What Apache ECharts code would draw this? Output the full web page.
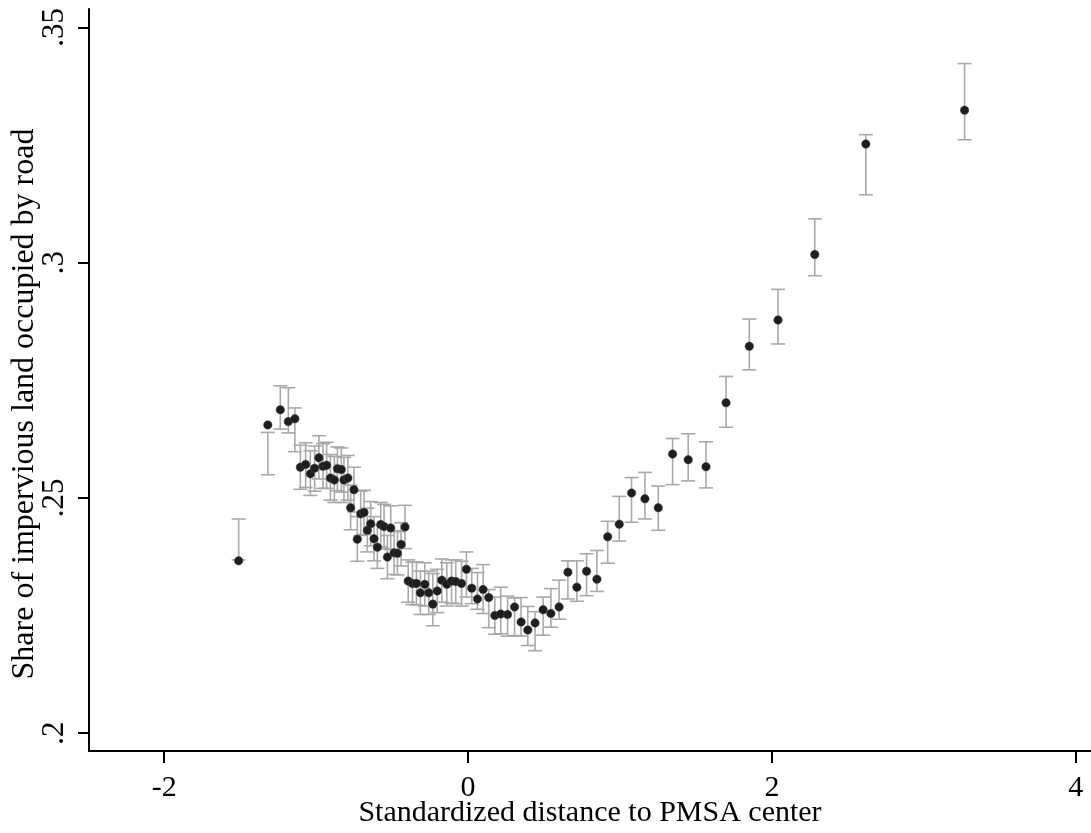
<!DOCTYPE html>
<html>
<head>
<meta charset="utf-8">
<script src="https://cdn.jsdelivr.net/npm/echarts@6/dist/echarts.min.js"></script>
<style>
html,body{margin:0;padding:0;background:#fff;}
#chart{width:1091px;height:833px;}
</style>
</head>
<body>
<div id="chart"></div>
<script>
const xTicks = [-2, 0, 2, 4];
const yTicks = [0.2, 0.25, 0.3, 0.35];
const xs = [-1.510,-1.318,-1.236,-1.183,-1.140,-1.104,-1.069,-1.038,-1.010,-0.982,
  -0.955,-0.931,-0.906,-0.880,-0.860,-0.834,-0.817,-0.791,-0.773,-0.751,
  -0.729,-0.707,-0.685,-0.663,-0.641,-0.619,-0.597,-0.575,-0.553,-0.531,
  -0.509,-0.487,-0.465,-0.441,-0.415,-0.394,-0.366,-0.340,-0.314,-0.285,
  -0.259,-0.232,-0.203,-0.173,-0.140,-0.109,-0.081,-0.043,-0.011,0.024,
  0.062,0.099,0.136,0.176,0.215,0.260,0.306,0.349,0.393,0.441,
  0.494,0.545,0.599,0.657,0.716,0.780,0.848,0.919,0.995,1.076,
  1.164,1.252,1.346,1.449,1.566,1.698,1.851,2.040,2.282,2.618,3.268];
const ys = [0.2366,0.2655,0.2687,0.2662,0.2668,0.2565,0.2571,0.2551,0.2563,0.2585,
  0.2567,0.2569,0.2542,0.2538,0.2562,0.2560,0.2538,0.2542,0.2479,0.2517,
  0.2412,0.2466,0.2469,0.2431,0.2445,0.2413,0.2395,0.2443,0.2439,0.2374,
  0.2436,0.2383,0.2382,0.2401,0.2438,0.2323,0.2318,0.2318,0.2298,0.2316,
  0.2298,0.2274,0.2302,0.2325,0.2316,0.2323,0.2322,0.2318,0.2348,0.2308,
  0.2285,0.2305,0.2288,0.2250,0.2253,0.2252,0.2268,0.2236,0.2219,0.2234,
  0.2262,0.2254,0.2268,0.2342,0.2310,0.2344,0.2327,0.2417,0.2444,0.2510,
  0.2498,0.2479,0.2593,0.2581,0.2566,0.2702,0.2822,0.2878,0.3017,0.3252,0.3324];
const lo = [0.2368,0.2549,0.2646,0.2638,0.2598,0.2518,0.2522,0.2505,0.2514,0.2540,
  0.2520,0.2520,0.2495,0.2490,0.2515,0.2512,0.2490,0.2495,0.2432,0.2470,
  0.2365,0.2420,0.2422,0.2385,0.2398,0.2366,0.2350,0.2396,0.2392,0.2328,
  0.2390,0.2337,0.2336,0.2355,0.2392,0.2278,0.2273,0.2272,0.2252,0.2270,
  0.2252,0.2228,0.2256,0.2278,0.2270,0.2276,0.2275,0.2270,0.2289,0.2275,
  0.2263,0.2254,0.2224,0.2210,0.2211,0.2206,0.2207,0.2206,0.2186,0.2175,
  0.2208,0.2225,0.2242,0.2285,0.2280,0.2292,0.2301,0.2361,0.2408,0.2448,
  0.2455,0.2431,0.2528,0.2536,0.2521,0.2650,0.2772,0.2827,0.2972,0.3144,0.3261];
const hi = [0.2455,0.2639,0.2738,0.2734,0.2691,0.2612,0.2617,0.2600,0.2610,0.2632,
  0.2615,0.2618,0.2592,0.2588,0.2608,0.2606,0.2586,0.2590,0.2527,0.2565,
  0.2460,0.2514,0.2516,0.2478,0.2492,0.2460,0.2442,0.2490,0.2486,0.2420,
  0.2483,0.2430,0.2428,0.2447,0.2484,0.2368,0.2363,0.2364,0.2344,0.2362,
  0.2344,0.2339,0.2348,0.2370,0.2362,0.2368,0.2368,0.2365,0.2385,0.2350,
  0.2341,0.2358,0.2305,0.2289,0.2310,0.2291,0.2287,0.2288,0.2269,0.2258,
  0.2289,0.2307,0.2325,0.2366,0.2366,0.2381,0.2388,0.2450,0.2503,0.2543,
  0.2554,0.2525,0.2626,0.2636,0.2619,0.2758,0.2880,0.2943,0.3093,0.3272,0.3423];

const pointData = xs.map((x, i) => [x, ys[i]]);
const barData = xs.map((x, i) => [x, lo[i], hi[i]]);
const FONT = 'Liberation Serif';

const chart = echarts.init(document.getElementById('chart'), null, {renderer: 'canvas'});
chart.setOption({
  animation: false,
  backgroundColor: '#fff',
  grid: {left: 89, right: 0, top: 9, bottom: 82, containLabel: false, outerBoundsMode: 'none'},
  xAxis: {
    type: 'value', min: -2.495, max: 4.10,
    name: 'Standardized distance to PMSA center',
    nameLocation: 'middle', nameGap: 47, nameMoveOverlap: false,
    nameTextStyle: {fontFamily: FONT, fontSize: 30, color: '#000'},
    axisLine: {show: true, onZero: false, lineStyle: {color: '#000', width: 2}},
    axisTick: {show: true, length: 12, inside: false, customValues: xTicks, lineStyle: {color: '#000', width: 2}},
    axisLabel: {customValues: xTicks, margin: 22, fontFamily: FONT, fontSize: 30, color: '#000',
      formatter: v => String(v)},
    splitLine: {show: false}
  },
  yAxis: {
    type: 'value', min: 0.19618, max: 0.3539,
    name: 'Share of impervious land occupied by road',
    nameLocation: 'middle', nameGap: 48, nameMoveOverlap: false,
    nameTextStyle: {fontFamily: FONT, fontSize: 32, color: '#000', padding: [0, 48, 0, 0]},
    axisLine: {show: true, onZero: false, lineStyle: {color: '#000', width: 2}},
    axisTick: {show: true, length: 11, inside: false, customValues: yTicks, lineStyle: {color: '#000', width: 2}},
    axisLabel: {customValues: yTicks, rotate: 90, margin: 19, fontFamily: FONT, fontSize: 31, color: '#000',
      formatter: v => String(v).replace(/^0/, '')},
    splitLine: {show: false}
  },
  series: [
    {
      type: 'custom',
      data: barData,
      encode: {x: 0, y: [1, 2]},
      z: 1,
      renderItem: function (params, api) {
        const x = api.value(0);
        const a = api.coord([x, api.value(1)]);
        const b = api.coord([x, api.value(2)]);
        const w = 7;
        const st = {stroke: '#a9a9a9', lineWidth: 1.6};
        return {
          type: 'group',
          children: [
            {type: 'line', shape: {x1: a[0], y1: a[1], x2: b[0], y2: b[1]}, style: st},
            {type: 'line', shape: {x1: a[0] - w, y1: a[1], x2: a[0] + w, y2: a[1]}, style: st},
            {type: 'line', shape: {x1: b[0] - w, y1: b[1], x2: b[0] + w, y2: b[1]}, style: st}
          ]
        };
      }
    },
    {
      type: 'scatter',
      data: pointData,
      symbol: 'circle',
      symbolSize: 8.5,
      z: 2,
      itemStyle: {color: '#1e1e1e', borderColor: '#444', borderWidth: 0.5, opacity: 1}
    }
  ]
});
</script>
</body>
</html>
